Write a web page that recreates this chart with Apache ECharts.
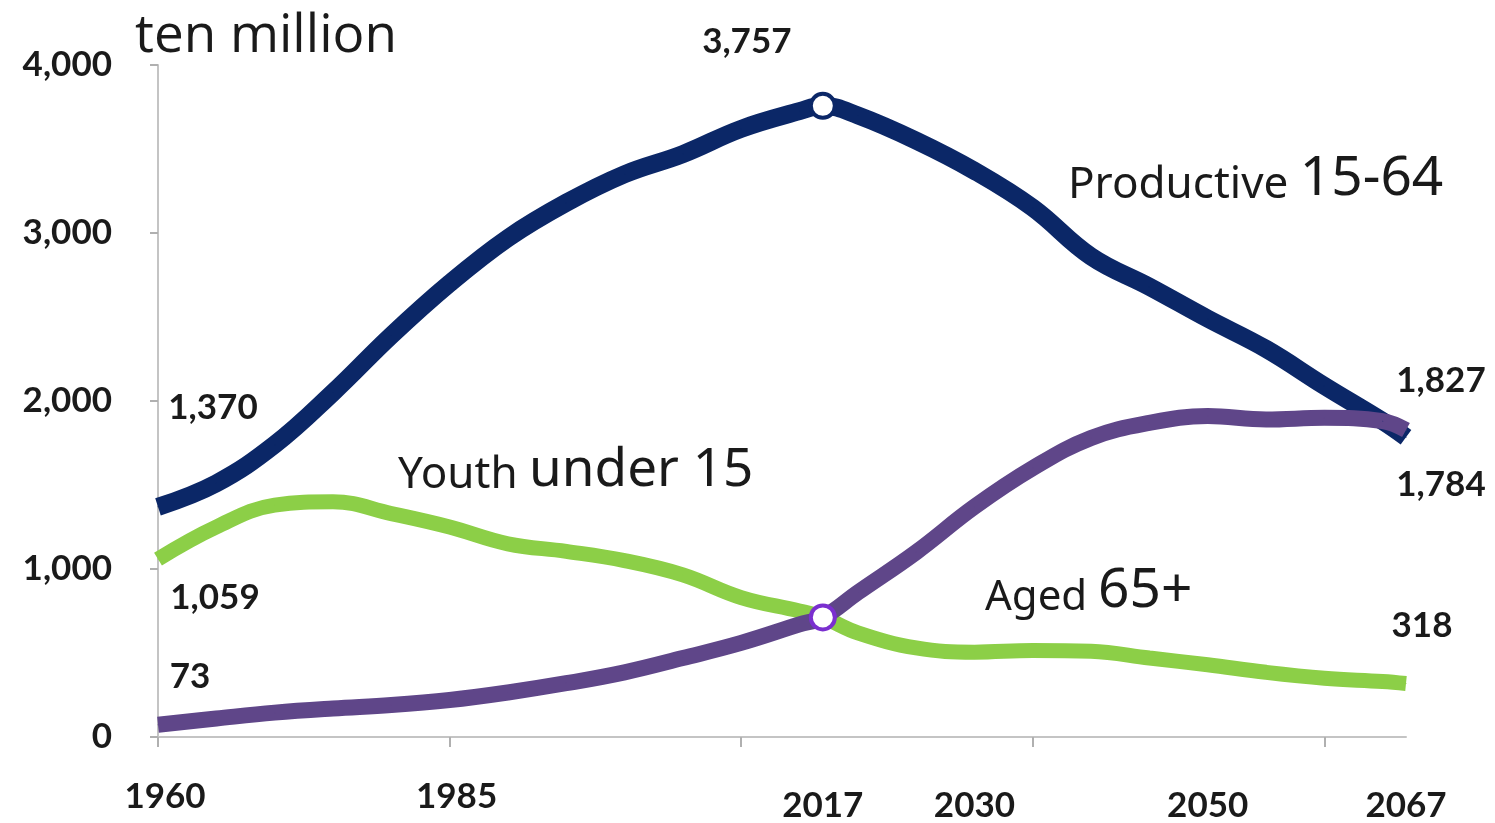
<!DOCTYPE html>
<html>
<head>
<meta charset="utf-8">
<title>Population by age group</title>
<script src="https://cdn.jsdelivr.net/npm/echarts@6/dist/echarts.min.js"></script>
<style>
  html, body { margin: 0; padding: 0; background: #fff; }
  #chart { width: 1495px; height: 823px; }
</style>
</head>
<body>
<div id="chart"></div>
<script>
// years
var years = [1960, 1965, 1970, 1975, 1980, 1985, 1990, 1995, 2000, 2005, 2010, 2015, 2017,
  2020, 2025, 2030, 2035, 2040, 2045, 2050, 2055, 2060, 2065, 2067];
var productive = [1370, 1510, 1740, 2050, 2390, 2700, 2970, 3180, 3350, 3470, 3620, 3725, 3757,
  3700, 3550, 3370, 3150, 2860, 2680, 2490, 2310, 2090, 1880, 1784];
var youth = [1059, 1250, 1380, 1400, 1330, 1250, 1150, 1105, 1050, 965, 830, 750, 712,
  620, 530, 505, 515, 510, 470, 430, 385, 350, 330, 318];
var aged = [73, 110, 145, 170, 190, 220, 265, 320, 385, 470, 560, 670, 712,
  860, 1100, 1370, 1600, 1780, 1870, 1910, 1890, 1900, 1880, 1827];

var tickYears = [1960, 1985, 2010, 2035, 2060];
var labelYears = [1960, 1985, 2017, 2030, 2050, 2067];

var NAVY = '#0b2767';
var GREEN = '#8ccf47';
var PURPLE = '#5f4689';
var TEXT = '#1a1a1a';
var NUM_SIZE = 35;

function valueLabel(dx, dy) {
  return {
    show: true,
    position: 'inside',
    offset: [dx, dy],
    fontFamily: 'Lato',
    fontWeight: 'bold',
    fontSize: NUM_SIZE,
    color: TEXT,
    formatter: function (p) {
      return p.value[1].toLocaleString('en-US');
    }
  };
}

function ring(color) {
  return {
    symbol: 'circle',
    symbolSize: 24,
    itemStyle: { color: '#fff', borderColor: color, borderWidth: 4 }
  };
}

function buildData(values, extras) {
  return years.map(function (yr, i) {
    return Object.assign({ value: [yr, values[i]] }, extras[yr] || {});
  });
}

function lineSeries(name, color, width, data) {
  return {
    name: name,
    type: 'line',
    color: color,
    smooth: 0.4,
    symbol: 'circle',
    symbolSize: 1,
    showSymbol: true,
    lineStyle: { color: color, width: width },
    label: { show: false },
    emphasis: { disabled: true },
    data: data
  };
}

function note(left, top, a, b, sizeA, sizeB) {
  return {
    type: 'text', left: left, top: top,
    style: {
      text: '{a|' + a + ' }{b|' + b + '}',
      rich: {
        a: { fontFamily: 'Noto Sans', fontSize: sizeA, fill: TEXT, verticalAlign: 'bottom' },
        b: { fontFamily: 'Noto Sans', fontSize: sizeB, fill: TEXT, verticalAlign: 'bottom' }
      }
    }
  };
}

var chart = echarts.init(document.getElementById('chart'));

chart.setOption({
  animation: false,
  grid: { left: 158, right: 89, top: 65, bottom: 83 },
  xAxis: {
    type: 'value',
    min: 1960,
    max: 2067,
    interval: 25,
    splitLine: { show: false },
    axisLine: { lineStyle: { color: '#c4c4c4', width: 2 } },
    axisTick: { show: true, length: 10, customValues: tickYears, lineStyle: { color: '#b0b0b0', width: 2 } },
    axisLabel: {
      customValues: labelYears,
      margin: 42,
      formatter: function (v) {
        return (v === 1960 || v === 1985) ? '{hi|' + v + '}' : '{lo|' + v + '}';
      },
      rich: {
        hi: { fontFamily: 'Lato', fontWeight: 'bold', fontSize: NUM_SIZE, color: TEXT, padding: [0, 0, 0, 14] },
        lo: { fontFamily: 'Lato', fontWeight: 'bold', fontSize: NUM_SIZE, color: TEXT, padding: [9, 0, 0, 0] }
      }
    }
  },
  yAxis: {
    type: 'value',
    min: 0,
    max: 4000,
    interval: 1000,
    name: 'ten million',
    nameLocation: 'end',
    nameGap: 2,
    nameTextStyle: {
      fontFamily: 'Open Sans',
      fontSize: 53,
      color: TEXT,
      align: 'left',
      verticalAlign: 'bottom',
      padding: [0, 0, 0, -23]
    },
    splitLine: { show: false },
    axisLine: { show: true, lineStyle: { color: '#c4c4c4', width: 2 } },
    axisTick: { show: true, length: 8, lineStyle: { color: '#b0b0b0', width: 2 } },
    axisLabel: {
      margin: 46,
      fontFamily: 'Lato',
      fontWeight: 'bold',
      fontSize: NUM_SIZE,
      color: TEXT,
      formatter: function (v) {
        return v.toLocaleString('en-US');
      }
    }
  },
  graphic: [
    note(1068, 152, 'Productive', '15-64', 44, 55),
    note(398, 444, 'Youth', 'under 15', 44, 53),
    note(985, 564, 'Aged', '65+', 42, 55)
  ],
  series: [
    lineSeries('Productive 15-64', NAVY, 18, buildData(productive, {
      1960: { label: valueLabel(55, -99) },
      2017: Object.assign(ring(NAVY), { label: valueLabel(-76, -64) }),
      2067: { label: valueLabel(35, 47) }
    })),
    lineSeries('Youth under 15', GREEN, 15, buildData(youth, {
      1960: { label: valueLabel(57, 39) },
      2067: { label: valueLabel(16, -58) }
    })),
    lineSeries('Aged 65+', PURPLE, 16, buildData(aged, {
      1960: { label: valueLabel(32, -48) },
      2017: ring('#7a2fcf'),
      2067: { label: valueLabel(35, -49) }
    }))
  ]
});
</script>
</body>
</html>
